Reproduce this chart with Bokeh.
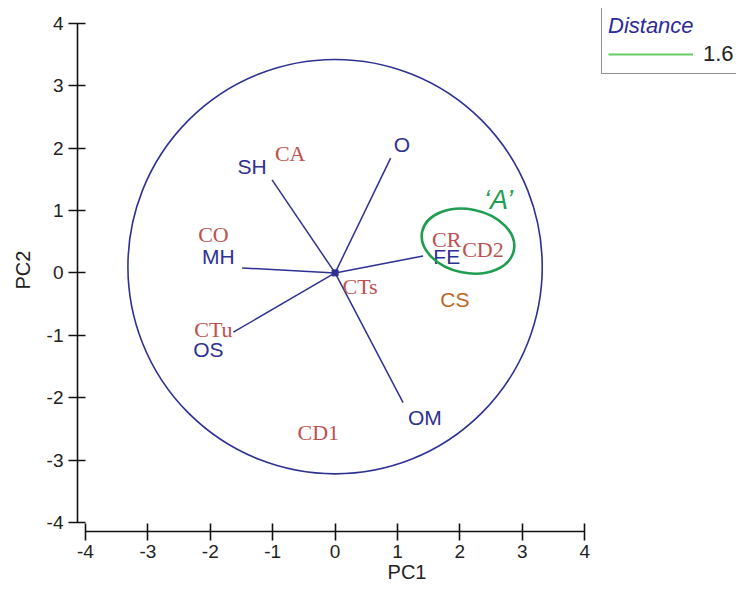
from bokeh.plotting import figure
from bokeh.models import Legend, LegendItem, Range1d, FixedTicker, PrintfTickFormatter
from bokeh.core.properties import value
from bokeh.embed import file_html
from bokeh.resources import INLINE

# ---- data ----
ticks = [-4, -3, -2, -1, 0, 1, 2, 3, 4]

vec_names = ["SH", "O", "MH", "FE", "OS", "OM"]
vec_x = [-1.01, 0.89, -1.49, 1.41, -1.63, 1.09]
vec_y = [1.49, 1.84, 0.08, 0.27, -0.95, -2.08]
vec_lab_x = [-1.33, 1.07, -1.87, 1.79, -2.03, 1.44]
vec_lab_y = [1.70, 2.05, 0.26, 0.26, -1.23, -2.31]

case_names = ["CA", "CO", "CTs", "CTu", "CR", "CD2", "CD1"]
case_x = [-0.72, -1.95, 0.40, -1.95, 1.79, 2.37, -0.27]
case_y = [1.92, 0.61, -0.22, -0.91, 0.53, 0.37, -2.56]

cs_name = ["CS"]
cs_x = [1.92]
cs_y = [-0.43]

circle_x = [0.0]
circle_y = [0.1]
circle_d = [6.64]

group_x = [2.13]
group_y = [0.51]
group_w = [1.50]
group_h = [1.02]
group_label = ["\u2018A\u2019"]
group_lab_x = [2.62]
group_lab_y = [1.17]

legend_title = "Distance"
legend_value = "1.6"
legend_x = [float("nan"), float("nan")]
legend_y = [float("nan"), float("nan")]

NAVY = "#2e3192"
RED = "#c0504d"
GREEN = "#1f9e52"

p = figure(width=736, height=590, output_backend="svg", toolbar_location=None,
           x_range=Range1d(-4.128, 6.433), y_range=Range1d(-4.144, 4.237),
           min_border_left=77, min_border_right=0, min_border_top=8, min_border_bottom=59)
p.outline_line_color = None
p.grid.visible = False
p.background_fill_color = "white"

for ax in (p.xaxis[0], p.yaxis[0]):
    ax.bounds = (-4, 4)
    ax.ticker = FixedTicker(ticks=ticks)
    ax.formatter = PrintfTickFormatter(format="%d")
    ax.minor_tick_line_color = None
    ax.axis_line_width = 1.6
    ax.major_tick_line_width = 1.6
    ax.axis_line_color = "#111111"
    ax.major_tick_line_color = "#111111"
    ax.major_tick_in = 8
    ax.major_tick_out = 9
    ax.major_label_text_font = "Liberation Sans"
    ax.major_label_text_font_size = "19px"
    ax.major_label_text_color = "#222222"
    ax.axis_label_text_font = "Liberation Sans"
    ax.axis_label_text_font_size = "20px"
    ax.axis_label_text_font_style = "normal"
    ax.axis_label_text_color = "#222222"
p.xaxis.axis_label = "PC1"
p.yaxis.axis_label = "PC2"
p.xaxis.major_label_standoff = 4
p.xaxis.axis_label_standoff = 0
p.yaxis.major_label_standoff = 5
p.yaxis.axis_label_standoff = 10

# big circle
p.ellipse(x=circle_x, y=circle_y, width=circle_d, height=circle_d,
          fill_color=None, line_color=NAVY, line_width=1.6)

# vectors
p.segment(x0=[0] * len(vec_x), y0=[0] * len(vec_y), x1=vec_x, y1=vec_y,
          line_color=NAVY, line_width=1.5)
p.scatter(x=[0], y=[0], marker="square", size=6, color=NAVY)

p.text(x=vec_lab_x, y=vec_lab_y, text=vec_names, text_color=NAVY,
       text_font=value("Liberation Sans"), text_font_size="21px",
       text_align="center", text_baseline="middle")
p.text(x=case_x, y=case_y, text=case_names, text_color=RED,
       text_font=value("Liberation Serif"), text_font_size="22px",
       text_align="center", text_baseline="middle")
p.text(x=cs_x, y=cs_y, text=cs_name, text_color="#c0651e",
       text_font=value("Liberation Sans"), text_font_size="21px",
       text_align="center", text_baseline="middle")

# group A
p.ellipse(x=group_x, y=group_y, width=group_w, height=group_h, angle=-0.2,
          fill_color=None, line_color=GREEN, line_width=2.6)
p.text(x=group_lab_x, y=group_lab_y, text=group_label, text_color=GREEN,
       text_font=value("Liberation Sans"), text_font_size="27px",
       text_font_style="italic", text_align="center", text_baseline="middle")

# legend
leg_r = p.line(x=legend_x, y=legend_y, line_color="#66cc66", line_width=2.2)
legend = Legend(items=[LegendItem(label=legend_value, renderers=[leg_r])],
                title=legend_title, location=(524, 457),
                title_text_font="Liberation Sans", title_text_font_size="22px",
                title_text_font_style="italic", title_text_color="#2b2b9a",
                label_text_font="Liberation Sans", label_text_font_size="22px",
                label_text_color="#222222",
                border_line_color="#222222", border_line_width=1.5,
                padding=6, spacing=0, margin=0, title_standoff=2,
                glyph_width=85, glyph_height=20, label_height=20,
                label_standoff=10, background_fill_alpha=1)
p.add_layout(legend)

open("out.html", "w").write(file_html(p, INLINE))
